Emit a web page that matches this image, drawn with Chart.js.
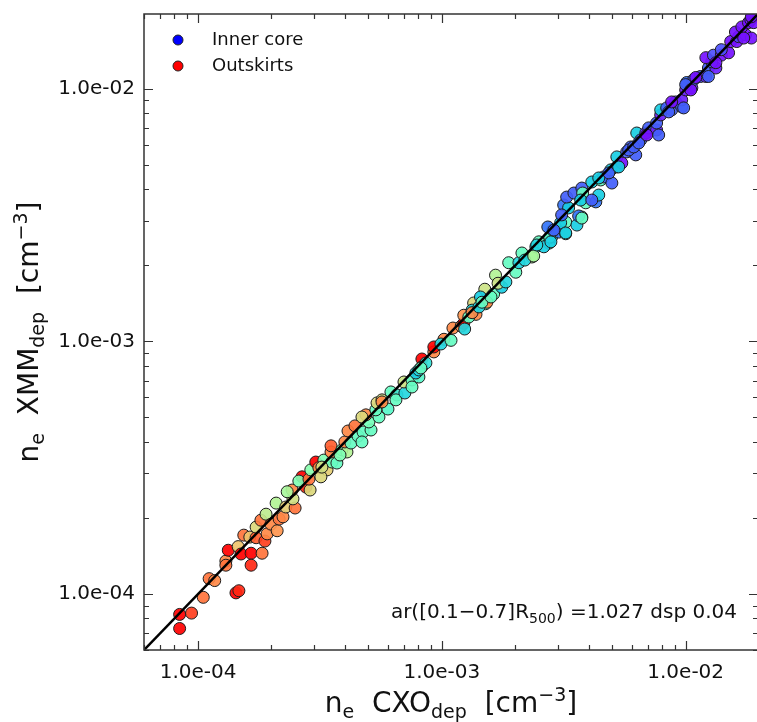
<!DOCTYPE html>
<html><head><meta charset="utf-8">
<script src="https://cdn.jsdelivr.net/npm/chart.js@4.4.1/dist/chart.umd.min.js"></script>
<style>html,body{margin:0;padding:0;background:#fff;overflow:hidden;}#wrap{width:758px;height:722px;}</style>
</head><body><div id="wrap"><canvas id="c" width="758" height="722"></canvas></div>
<script>
// n_e from CXO deprojection (x) [cm^-3]
const cxoDensity = [
8.4e-5,8.4e-5,9.4e-5,1.05e-4,1.11e-4,1.17e-4,1.43e-4,1.47e-4,1.30e-4,1.30e-4,
1.33e-4,1.46e-4,1.50e-4,1.65e-4,1.65e-4,1.54e-4,1.63e-4,1.73e-4,1.73e-4,1.83e-4,
1.88e-4,1.92e-4,1.81e-4,1.90e-4,1.99e-4,2.11e-4,2.15e-4,2.09e-4,2.23e-4,2.29e-4,
2.50e-4,2.45e-4,2.43e-4,2.32e-4,2.67e-4,2.77e-4,2.59e-4,2.88e-4,2.85e-4,2.90e-4,
3.04e-4,3.13e-4,3.38e-4,3.28e-4,3.54e-4,3.71e-4,3.51e-4,3.51e-4,3.89e-4,4.08e-4,
4.00e-4,4.24e-4,4.53e-4,4.12e-4,4.40e-4,4.75e-4,5.12e-4,5.02e-4,3.19e-4,3.22e-4,
3.82e-4,4.70e-4,4.88e-4,4.70e-4,5.52e-4,5.36e-4,5.42e-4,5.68e-4,6.01e-4,6.18e-4,
6.54e-4,6.48e-4,7.05e-4,6.99e-4,7.54e-4,8.05e-4,7.82e-4,8.28e-4,8.28e-4,8.05e-4,
8.60e-4,5.68e-4,7.54e-4,8.20e-4,9.27e-4,9.27e-4,1.02e-3,9.91e-4,1.09e-3,1.11e-3,
1.20e-3,1.23e-3,1.24e-3,1.23e-3,1.35e-3,1.38e-3,1.33e-3,1.51e-3,1.50e-3,1.44e-3,
1.63e-3,1.66e-3,1.76e-3,1.70e-3,1.83e-3,1.88e-3,2.01e-3,2.07e-3,2.13e-3,2.34e-3,
2.43e-3,2.50e-3,2.75e-3,2.62e-3,2.82e-3,3.02e-3,3.22e-3,3.22e-3,3.58e-3,3.75e-3,
3.64e-3,3.16e-3,3.31e-3,3.89e-3,4.28e-3,1.29e-3,1.33e-3,1.53e-3,1.42e-3,1.46e-3,
1.59e-3,2.19e-3,2.38e-3,2.45e-3,2.77e-3,2.85e-3,2.72e-3,3.07e-3,3.10e-3,3.22e-3,
3.25e-3,2.80e-3,2.88e-3,3.48e-3,3.75e-3,3.78e-3,3.71e-3,3.75e-3,4.40e-3,4.12e-3,
4.48e-3,4.61e-3,4.98e-3,4.93e-3,5.22e-3,5.22e-3,5.47e-3,5.73e-3,5.95e-3,6.24e-3,
6.30e-3,6.54e-3,6.86e-3,7.05e-3,7.60e-3,7.60e-3,7.90e-3,7.90e-3,8.36e-3,8.76e-3,
9.10e-3,9.63e-3,9.63e-3,1.00e-2,1.01e-2,1.06e-2,1.08e-2,1.15e-2,1.21e-2,1.24e-2,
1.33e-2,1.28e-2,1.21e-2,1.30e-2,1.40e-2,1.50e-2,1.40e-2,1.53e-2,1.62e-2,1.65e-2,
1.76e-2,1.86e-2,1.60e-2,1.70e-2,1.81e-2,1.85e-2,4.12e-3,4.40e-3,4.84e-3,5.31e-3,
5.84e-3,6.12e-3,6.42e-3,6.92e-3,7.75e-3,8.52e-3,8.76e-3,9.81e-3,1.00e-2,1.10e-2,
1.05e-2,1.24e-2,1.33e-2,1.73e-2,1.90e-2,1.86e-2
];
// n_e from XMM deprojection (y) [cm^-3]
const xmmDensity = [
8.3e-5,7.3e-5,8.4e-5,9.7e-5,1.15e-4,1.13e-4,1.01e-4,1.03e-4,1.35e-4,1.30e-4,
1.49e-4,1.54e-4,1.44e-4,1.45e-4,1.30e-4,1.71e-4,1.68e-4,1.67e-4,1.84e-4,1.45e-4,
1.62e-4,1.73e-4,1.96e-4,2.07e-4,1.89e-4,1.78e-4,1.98e-4,2.29e-4,2.02e-4,2.21e-4,
2.19e-4,2.38e-4,2.58e-4,2.54e-4,2.91e-4,2.65e-4,2.80e-4,2.58e-4,2.85e-4,3.10e-4,
3.33e-4,3.16e-4,3.10e-4,3.39e-4,3.33e-4,3.30e-4,3.65e-4,3.86e-4,3.72e-4,3.65e-4,
4.00e-4,3.96e-4,4.22e-4,4.42e-4,4.63e-4,4.38e-4,4.46e-4,4.80e-4,2.91e-4,3.18e-4,
3.55e-4,4.00e-4,5.12e-4,5.02e-4,5.02e-4,5.36e-4,5.71e-4,5.87e-4,5.40e-4,6.31e-4,
6.14e-4,5.87e-4,6.25e-4,6.91e-4,7.04e-4,7.23e-4,7.50e-4,8.52e-4,7.93e-4,7.71e-4,
8.22e-4,5.76e-4,6.60e-4,7.85e-4,9.09e-4,9.51e-4,1.02e-3,9.77e-4,1.01e-3,1.13e-3,
1.15e-3,1.18e-3,1.12e-3,1.27e-3,1.42e-3,1.28e-3,1.33e-3,1.41e-3,1.61e-3,1.50e-3,
1.54e-3,1.83e-3,1.64e-3,1.70e-3,1.72e-3,2.05e-3,1.88e-3,2.05e-3,2.24e-3,2.16e-3,
2.37e-3,2.48e-3,2.45e-3,2.37e-3,2.59e-3,2.71e-3,2.67e-3,2.97e-3,2.89e-3,3.11e-3,
3.14e-3,3.47e-3,3.38e-3,3.54e-3,3.57e-3,1.25e-3,1.30e-3,1.43e-3,1.37e-3,1.43e-3,
1.50e-3,2.10e-3,2.18e-3,2.41e-3,2.59e-3,2.76e-3,2.84e-3,2.95e-3,3.17e-3,2.69e-3,
3.73e-3,2.48e-3,2.76e-3,3.87e-3,4.05e-3,3.87e-3,3.63e-3,3.08e-3,3.80e-3,4.28e-3,
4.36e-3,4.48e-3,4.24e-3,4.78e-3,4.91e-3,5.38e-3,5.09e-3,5.63e-3,5.89e-3,5.48e-3,
6.69e-3,6.28e-3,6.69e-3,7.01e-3,6.88e-3,7.33e-3,7.89e-3,8.26e-3,8.41e-3,8.26e-3,
8.88e-3,8.49e-3,9.05e-3,9.91e-3,1.06e-2,1.01e-2,1.09e-2,1.12e-2,1.12e-2,1.21e-2,
1.21e-2,1.28e-2,1.33e-2,1.36e-2,1.36e-2,1.39e-2,1.43e-2,1.54e-2,1.54e-2,1.61e-2,
1.64e-2,1.59e-2,1.68e-2,1.76e-2,1.83e-2,1.88e-2,3.63e-3,4.44e-3,4.65e-3,4.91e-3,
5.73e-3,5.89e-3,6.11e-3,6.57e-3,6.57e-3,8.11e-3,8.88e-3,8.41e-3,1.04e-2,1.11e-2,
9.91e-3,1.12e-2,1.27e-2,1.59e-2,1.83e-2,1.93e-2
];
// radial position of each bin (0 = inner core, 1 = outskirts), mapped to the colour
const radiusFrac = [
1.0,1.0,0.92,0.85,0.85,0.82,1.0,0.95,0.82,0.85,
1.0,0.72,1.0,1.0,0.95,0.85,0.72,0.88,0.68,0.85,
0.92,0.82,0.85,0.62,0.82,0.8,0.85,0.6,0.82,0.7,
0.85,0.66,0.82,0.58,1.0,0.95,0.5,0.68,0.85,0.52,
1.0,0.82,0.7,0.5,0.48,0.45,0.82,0.88,0.5,0.6,
0.82,0.45,0.45,0.82,0.85,0.45,0.45,0.48,0.68,0.66,
0.5,0.45,0.82,0.68,0.45,0.45,0.68,0.66,0.42,0.45,
0.38,0.45,0.32,0.65,0.45,0.42,0.3,1.0,1.0,0.32,
0.35,0.82,0.45,0.45,0.82,1.0,0.82,0.32,0.45,0.82,
0.82,1.0,0.32,0.8,0.68,0.82,0.32,0.45,0.65,0.3,
0.45,0.6,0.3,0.65,0.32,0.45,0.45,0.32,0.45,0.6,
0.3,0.45,0.45,0.3,0.32,0.15,0.45,0.45,0.3,0.45,
0.15,0.15,0.3,0.45,0.15,0.45,0.82,0.82,0.32,0.45,
0.45,0.32,0.58,0.32,0.45,0.3,0.15,0.3,0.12,0.3,
0.12,0.3,0.12,0.12,0.12,0.45,0.3,0.45,0.3,0.3,
0.45,0.12,0.12,0.3,0.12,0.3,0.02,0.12,0.12,0.12,
0.3,0.12,0.04,0.12,0.04,0.12,0.04,0.3,0.12,0.12,
0.12,0.12,0.04,0.04,0.15,0.04,0.12,0.12,0.04,0.12,
0.04,0.12,0.02,0.1,0.02,0.02,0.1,0.02,0.02,0.08,
0.02,0.02,0.02,0.02,0.02,0.02,0.12,0.3,0.12,0.3,
0.12,0.12,0.12,0.02,0.12,0.12,0.02,0.12,0.12,0.02,
0.02,0.12,0.02,0.02,0.02,0.02
];
const tickValues = [1e-4, 1e-3, 1e-2];
const tickLabels = ['1.0e-04', '1.0e-03', '1.0e-02'];
const legendLabels = ['Inner core', 'Outskirts'];
const legendColors = ['#0000ff', '#ff0000'];
const axisMin = 6.0e-5, axisMax = 1.98e-2;
const oneToOne = [6.0e-5, 1.98e-2];

const FONT = '"DejaVu Sans", Verdana, sans-serif';

function rainbow(t) {
  const r = Math.min(1, Math.abs(2 * t - 0.5));
  const g = Math.max(0, Math.sin(Math.PI * t));
  const b = Math.max(0, Math.cos(Math.PI * t / 2));
  return `rgba(${Math.round(r*255)},${Math.round(g*255)},${Math.round(b*255)},0.92)`;
}

function drawRich(ctx, parts, x, y, align) {
  let total = 0;
  parts.forEach(p => { ctx.font = `${p.s}px ${FONT}`; p.w = ctx.measureText(p.t).width; total += p.w; });
  let cx = align === 'center' ? x - total / 2 : (align === 'right' ? x - total : x);
  ctx.textAlign = 'left'; ctx.textBaseline = 'alphabetic';
  parts.forEach(p => { ctx.font = `${p.s}px ${FONT}`; ctx.fillText(p.t, cx, y + (p.dy || 0)); cx += p.w; });
}

const decorPlugin = {
  id: 'decor',
  afterDraw(chart) {
    const ctx = chart.ctx, ca = chart.chartArea;
    const xs = chart.scales.x, ys = chart.scales.y;
    ctx.save();
    // frame
    ctx.strokeStyle = '#333'; ctx.lineWidth = 1.5;
    ctx.strokeRect(ca.left, ca.top, ca.right - ca.left, ca.bottom - ca.top);
    // inward ticks
    ctx.lineWidth = 1.2;
    ctx.beginPath();
    for (let e = -5; e <= -1; e++) {
      for (let m = 1; m <= 9; m++) {
        const v = m * Math.pow(10, e);
        if (v < axisMin || v > axisMax) continue;
        const len = m === 1 ? 9 : 5;
        const px = Math.round(xs.getPixelForValue(v)) + 0.5;
        ctx.moveTo(px, ca.bottom); ctx.lineTo(px, ca.bottom - len);
        ctx.moveTo(px, ca.top); ctx.lineTo(px, ca.top + len);
        const py = Math.round(ys.getPixelForValue(v)) + 0.5;
        ctx.moveTo(ca.left, py); ctx.lineTo(ca.left + len, py);
        ctx.moveTo(ca.right, py); ctx.lineTo(ca.right - len, py);
      }
    }
    ctx.stroke();
    // legend
    const lx = 178, ly = [40, 66];
    legendLabels.forEach((lab, i) => {
      ctx.beginPath(); ctx.arc(lx, ly[i], 5, 0, Math.PI * 2);
      ctx.fillStyle = legendColors[i]; ctx.fill();
      ctx.strokeStyle = '#222'; ctx.lineWidth = 1; ctx.stroke();
      ctx.fillStyle = '#111'; ctx.font = `18px ${FONT}`;
      ctx.textAlign = 'left'; ctx.textBaseline = 'middle';
      ctx.fillText(lab, 212, ly[i]);
    });
    // annotation
    ctx.fillStyle = '#111';
    drawRich(ctx, [{t:'ar([0.1\u22120.7]R', s:20}, {t:'500', s:14, dy:5}, {t:') =1.027 dsp 0.04', s:20}], 737, 618, 'right');
    // x title
    const titleParts = (mid) => [{t:'n', s:28}, {t:'e', s:19, dy:6}, {t:'  ' + mid, s:28}, {t:'dep', s:19, dy:6}, {t:'  [cm', s:28}, {t:'\u22123', s:19, dy:-11}, {t:']', s:28}];
    drawRich(ctx, titleParts('CXO'), (ca.left + ca.right) / 2, 712, 'center');
    // y title
    ctx.translate(38, (ca.top + ca.bottom) / 2);
    ctx.rotate(-Math.PI / 2);
    drawRich(ctx, titleParts('XMM'), 0, 0, 'center');
    ctx.restore();
  }
};

const points = cxoDensity.map((x, i) => ({x: x, y: xmmDensity[i]}));

new Chart(document.getElementById('c'), {
  type: 'scatter',
  data: {
    datasets: [
      { type: 'line', label: '1:1', data: oneToOne.map(v => ({x: v, y: v})), borderColor: '#000', borderWidth: 2.5, pointRadius: 0, fill: false, order: 0 },
      { label: 'bins', data: points, backgroundColor: radiusFrac.map(rainbow), borderColor: '#1c1c1c', borderWidth: 1, pointRadius: 6, order: 1 }
    ]
  },
  options: {
    responsive: false, animation: false, devicePixelRatio: 1,
    layout: { autoPadding: false, padding: { top: 14, left: 0, right: 0, bottom: 0 } },
    plugins: { legend: { display: false }, tooltip: { enabled: false } },
    scales: {
      x: {
        type: 'logarithmic', min: axisMin, max: axisMax,
        grid: { display: false, drawTicks: false }, border: { display: false },
        afterBuildTicks: s => { s.ticks = tickValues.map(v => ({value: v})); },
        ticks: { callback: (v, i) => tickLabels[i], font: { family: FONT, size: 20 }, color: '#111', padding: 11, maxRotation: 0, autoSkip: false },
        afterFit: s => { s.height = 72; s.paddingLeft = 0; s.paddingRight = 0; }
      },
      y: {
        type: 'logarithmic', min: axisMin, max: axisMax,
        grid: { display: false, drawTicks: false }, border: { display: false },
        afterBuildTicks: s => { s.ticks = tickValues.map(v => ({value: v})); },
        ticks: { callback: (v, i) => tickLabels[i], font: { family: FONT, size: 20 }, color: '#111', padding: 9, autoSkip: false },
        afterFit: s => { s.width = 144; s.paddingTop = 0; s.paddingBottom = 0; }
      }
    }
  },
  plugins: [decorPlugin]
});
</script>
</body></html>
